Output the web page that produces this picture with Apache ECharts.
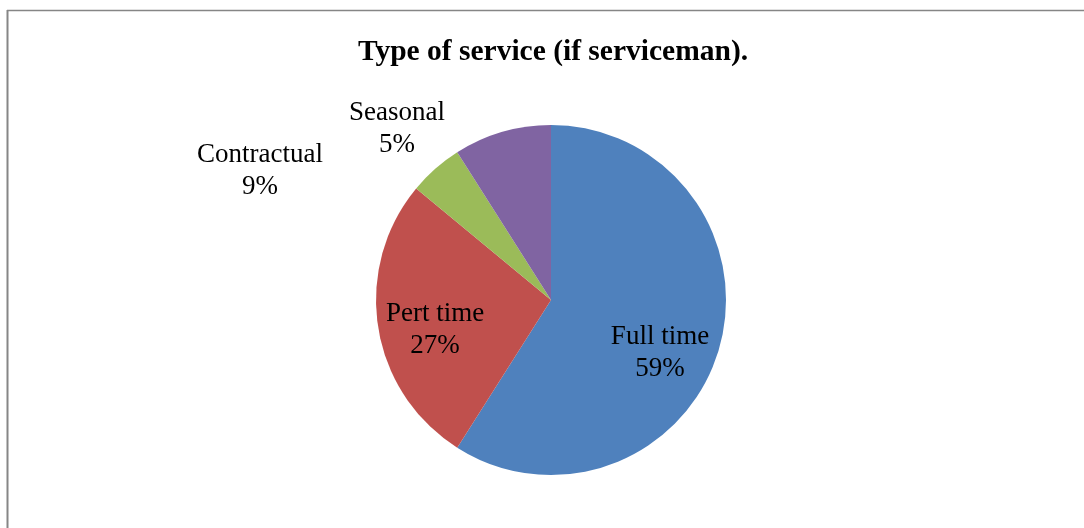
<!DOCTYPE html>
<html>
<head>
<meta charset="utf-8">
<script src="https://cdn.jsdelivr.net/npm/echarts@6/dist/echarts.min.js"></script>
<style>
html,body{margin:0;padding:0;background:#fff;}
#chart{width:1084px;height:528px;}
</style>
</head>
<body>
<div id="chart"></div>
<script>
const categories = ['Full time', 'Pert time', 'Seasonal', 'Contractual'];
const values = [59, 27, 5, 9];
const colors = ['#4F81BD', '#C0504D', '#9BBB59', '#8064A2'];
const labelSpots = [[660, 353], [435, 330], [397, 129], [260, 171]];

const chart = echarts.init(document.getElementById('chart'));
chart.setOption({
  animation: false,
  backgroundColor: '#fff',
  title: {
    text: 'Type of service (if serviceman).',
    left: 548, top: 32, textAlign: 'center',
    textStyle: { fontFamily: 'Liberation Serif', fontSize: 29.5, fontWeight: 'bold', color: '#000' }
  },
  graphic: [
    { type: 'line', shape: { x1: 7, y1: 10.5, x2: 1084, y2: 10.5 }, style: { stroke: '#868686', lineWidth: 1.5 } },
    { type: 'line', shape: { x1: 7.5, y1: 10, x2: 7.5, y2: 528 }, style: { stroke: '#868686', lineWidth: 2 } }
  ],
  series: [{
    type: 'pie',
    center: [551, 300],
    radius: 175,
    startAngle: 90,
    clockwise: true,
    itemStyle: { borderWidth: 0 },
    label: {
      show: true,
      position: 'inside',
      formatter: p => p.name + '\n' + Math.round(p.percent) + '%',
      fontFamily: 'Liberation Serif',
      fontSize: 27,
      lineHeight: 32,
      color: '#000',
      align: 'center'
    },
    labelLine: { show: false },
    labelLayout: p => ({ x: labelSpots[p.dataIndex][0], y: labelSpots[p.dataIndex][1], align: 'center', verticalAlign: 'middle' }),
    data: categories.map((c, i) => ({ name: c, value: values[i], itemStyle: { color: colors[i] } }))
  }]
});
</script>
</body>
</html>
